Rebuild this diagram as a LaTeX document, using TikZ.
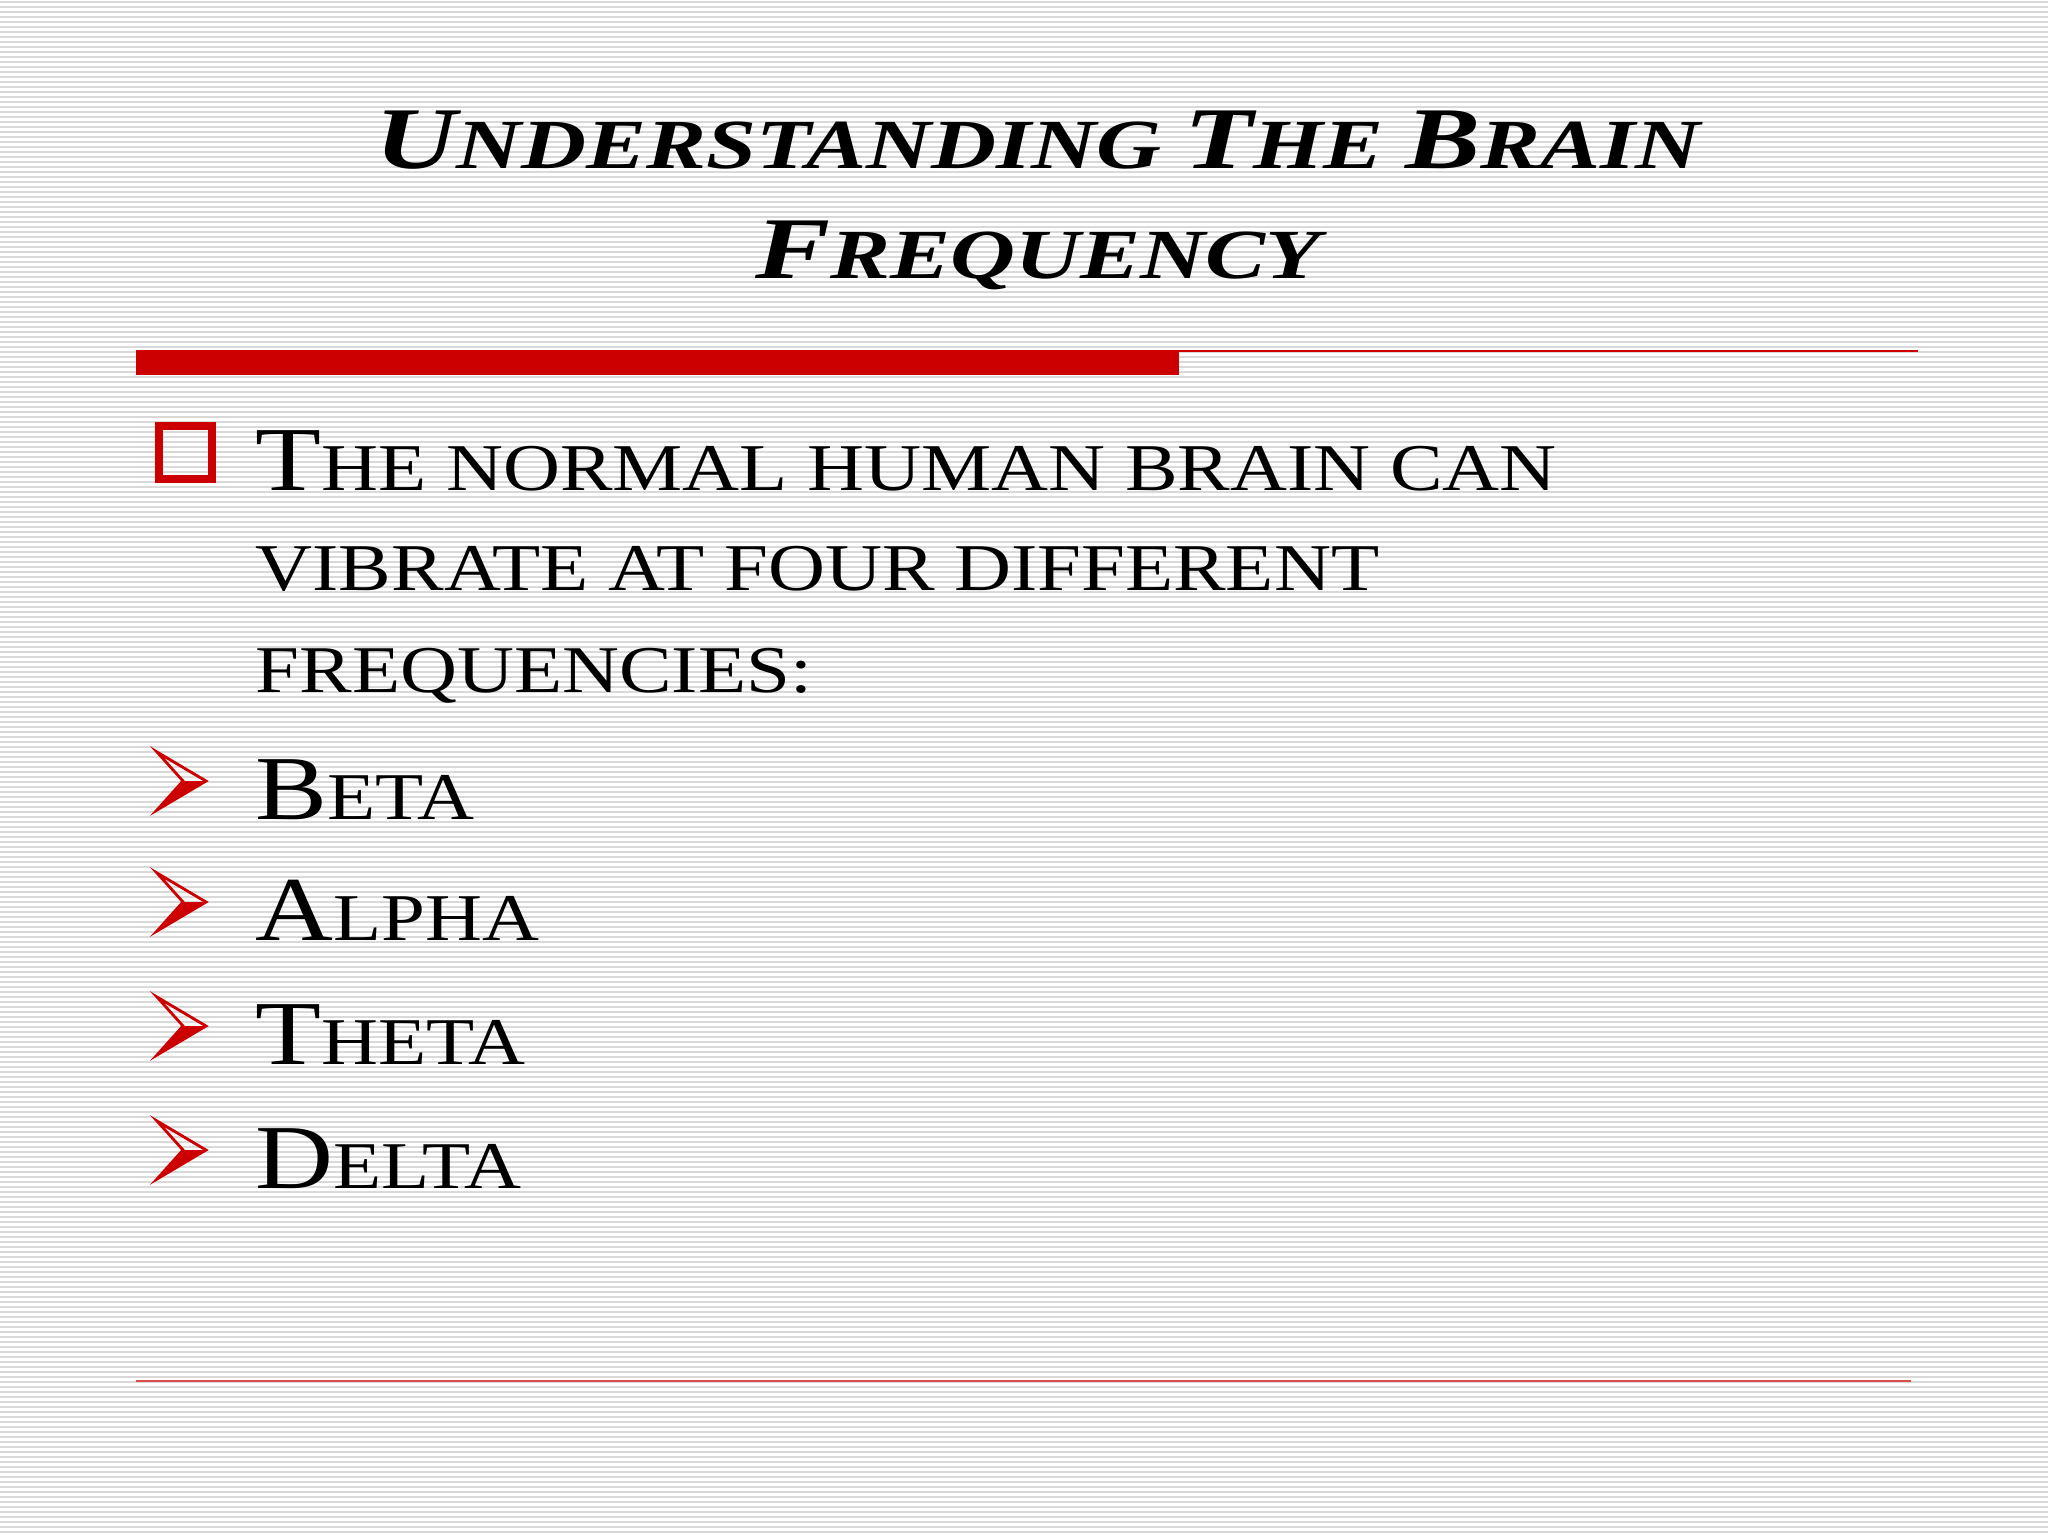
\documentclass[tikz,border=0pt]{standalone}
\usepackage{fontspec}
\usepackage{graphicx}
\setmainfont{Liberation Serif}
\definecolor{sred}{RGB}{204,0,0}
\newcommand\bc[1]{{\fontsize{26}{26}\selectfont #1}}
\newcommand\tc[1]{{\fontsize{25}{25}\selectfont #1}}
\newcommand\wi[1]{\scalebox{1.18}[1]{#1}}
\newcommand\wt[1]{\scalebox{1.28}[1]{#1}}
\tikzset{item/.style={anchor=base west,inner sep=0pt,font=\fontsize{19}{19}\selectfont},
 ttl/.style={anchor=base,inner sep=0pt,font=\bfseries\itshape\fontsize{20}{20}\selectfont},
 arr/.style={draw=sred,line width=0.8pt,line join=miter}}
\begin{document}
\begin{tikzpicture}[x=0.01cm,y=-0.01cm]
\useasboundingbox (0,0) rectangle (2048,1536);
\fill[white] (0,0) rectangle (2048,1536);
\foreach \k in {0,...,306} {\draw[gray!30,line width=0.5pt] (0,\k*5+2) -- (2048,\k*5+2);}
\node[ttl] (t1) at (1038,168) {\wt{\tc{U}NDERSTANDING \tc{T}HE \tc{B}RAIN}};
\node[ttl] (t2) at (1038,278) {\wt{\tc{F}REQUENCY}};
\fill[sred] (136,350) rectangle (1179,375);
\draw[sred,line width=0.8pt] (1179,351) -- (1918,351);
\draw[sred!70,line width=0.5pt] (136,1381) -- (1911,1381);
\draw[sred,line width=2.5pt] (159,426) rectangle (212,479);
\node[item] (l1) at (255,490) {\wi{\bc{T}HE NORMAL HUMAN BRAIN CAN}};
\node[item] (l2) at (255,590) {\wi{VIBRATE AT FOUR DIFFERENT}};
\node[item] (l3) at (255,692) {\wi{FREQUENCIES:}};
\foreach \y/\a/\b [count=\i] in {819/B/ETA,940/A/LPHA,1064/T/HETA,1188/D/ELTA}{
 \node[item] (i\i) at (255,\y) {\wi{\bc{\a}\b}};
 \fill[sred] (183,\y-38) -- (206,\y-38) -- (157,\y-9) -- cycle;
 \draw[arr] (157,\y-67) -- (206,\y-38) -- (157,\y-9) -- (183,\y-38) -- cycle;
}
\end{tikzpicture}
\end{document}
